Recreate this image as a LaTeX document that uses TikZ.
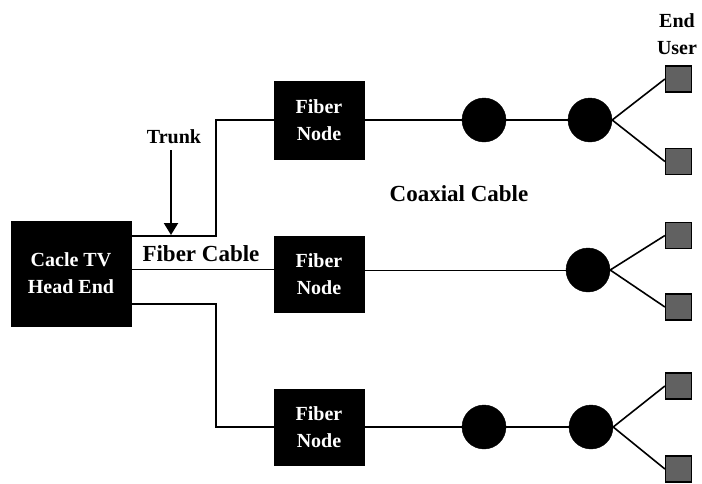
\documentclass[tikz,border=0pt]{standalone}
\usepackage{fontspec}
\setmainfont{Liberation Serif}
\usetikzlibrary{arrows.meta}
\begin{document}
\begin{tikzpicture}[x=1pt,y=-1pt,
  blackbox/.style={draw=black,fill=black,text=white,inner sep=0pt,
    font=\bfseries\fontsize{20}{27}\selectfont,align=center},
  repeater/.style={circle,fill=black,draw=black,minimum size=44pt,inner sep=0pt},
  enduser/.style={rectangle,fill=black!62,draw=black,line width=1.2pt,minimum size=26pt,inner sep=0pt},
  fiber/.style={line width=1.6pt},
  coaxthick/.style={line width=2.6pt},
  coaxthin/.style={line width=1pt},
  coaxmid/.style={line width=1.8pt},
  drop/.style={line width=1.6pt},
  lbl/.style={font=\bfseries\fontsize{20}{27}\selectfont,inner sep=0pt},
  biglbl/.style={font=\bfseries\fontsize{23}{27}\selectfont,inner sep=0pt}]
\useasboundingbox (0,0) rectangle (702,483);

% head end and fiber nodes
\node[blackbox,minimum width=120pt,minimum height=105pt] (head) at (71,273.5) {Cacle TV\\Head End};
\node[blackbox,minimum width=90pt,minimum height=78pt] (fn1) at (319,120) {Fiber\\Node};
\node[blackbox,minimum width=90pt,minimum height=76pt] (fn2) at (319,274) {Fiber\\Node};
\node[blackbox,minimum width=90pt,minimum height=76pt] (fn3) at (319,427) {Fiber\\Node};

% fiber cables
\coordinate (h1) at (131,236);
\coordinate (h2) at (131,269);
\coordinate (h3) at (131,304);
\coordinate (f2) at (274,269);
\draw[fiber] (h1) -- (216,236) |- (fn1.west);
\draw[coaxthin] (h2) -- (f2);
\draw[fiber] (h3) -- (216,304) |- (fn3.west);

% trunk arrow
\node[lbl,anchor=base] (trunk) at (174,143) {Trunk};
\coordinate (ttip) at (171,235);
\draw[line width=2.2pt,-{Triangle[width=14pt,length=12pt]}] (171,150) -- (ttip);

% labels
\node[biglbl,anchor=base] (fcable) at (201,261) {Fiber Cable};
\node[biglbl,anchor=base] (ccable) at (459,201) {Coaxial Cable};
\node[lbl,align=center] (eu) at (677,34) {End\\User};

% repeaters / taps
\node[repeater] (c11) at (484,120) {};
\node[repeater] (c12) at (590,120) {};
\node[repeater] (c22) at (588,270) {};
\node[repeater] (c31) at (484,427) {};
\node[repeater] (c32) at (591,427) {};

\draw[coaxthick] (fn1.east) -- (c11) -- (c12);
\draw[coaxthin] (fn2.east |- c22) -- (c22);
\draw[coaxmid] (fn3.east) -- (c31) -- (c32);

% end users
\node[enduser] (u1) at (678.5,79) {};
\node[enduser] (u2) at (678.5,161.5) {};
\node[enduser] (u3) at (678.5,235.5) {};
\node[enduser] (u4) at (678.5,307) {};
\node[enduser] (u5) at (678.5,386) {};
\node[enduser] (u6) at (678.5,469) {};

\draw[drop] (c12.east) -- (u1.west);
\draw[drop] (c12.east) -- (u2.west);
\draw[drop] (c22.east) -- (u3.west);
\draw[drop] (c22.east) -- (u4.west);
\draw[drop] (c32.east) -- (u5.west);
\draw[drop] (c32.east) -- (u6.west);
\end{tikzpicture}
\end{document}
